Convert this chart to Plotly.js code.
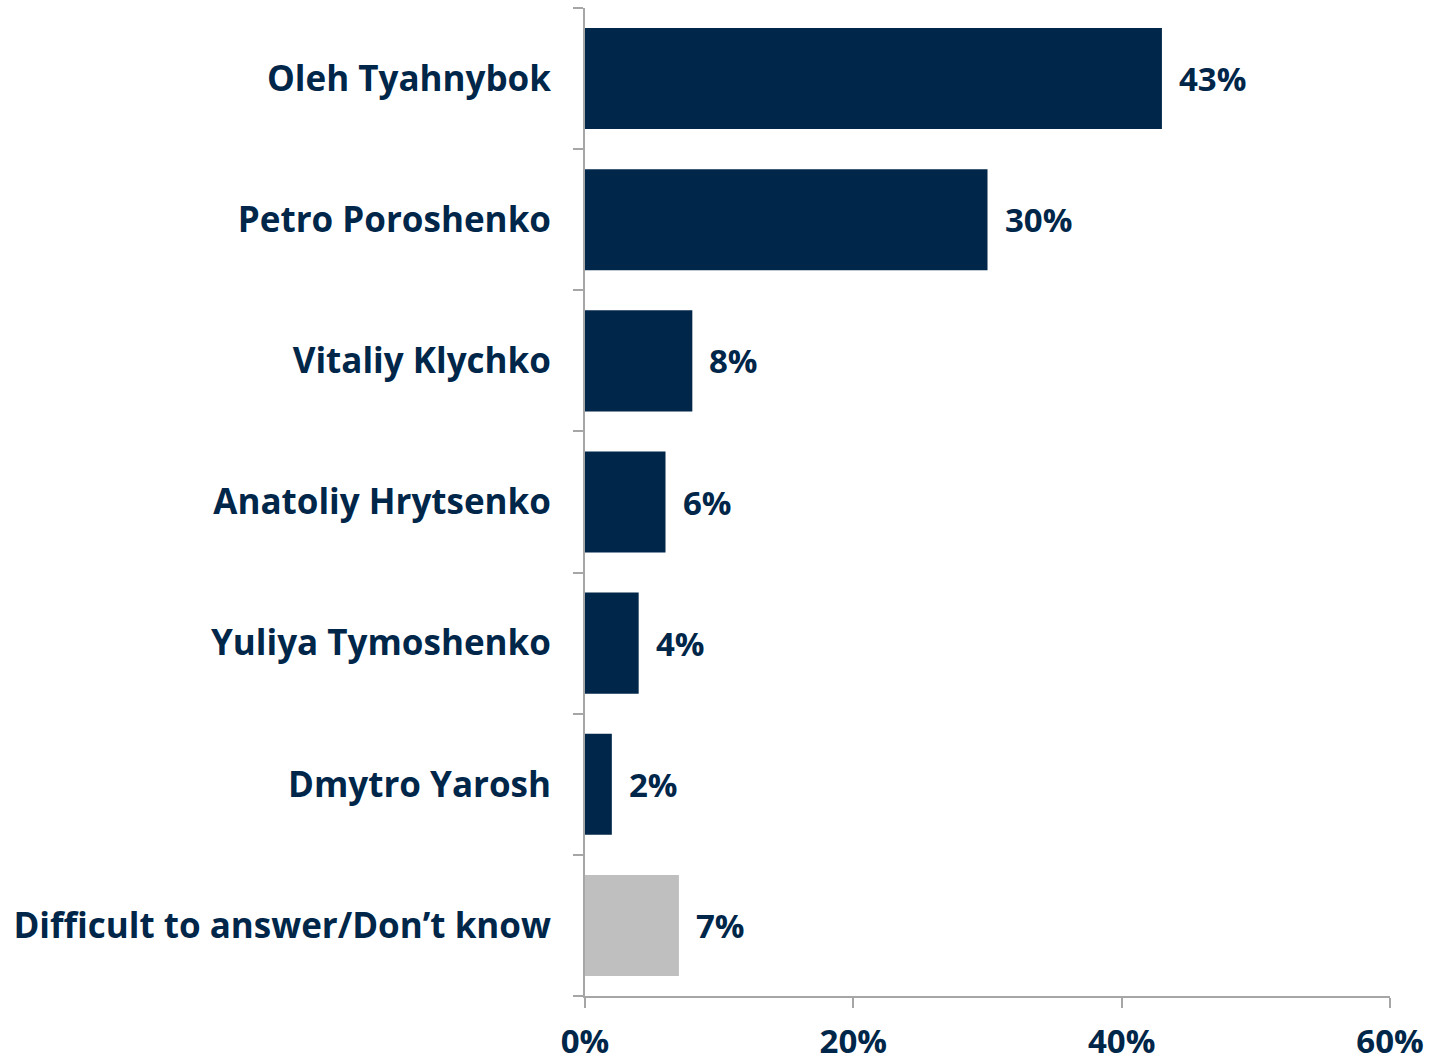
<!DOCTYPE html>
<html>
<head>
<meta charset="utf-8">
<script src="https://cdn.plot.ly/plotly-3.0.1.min.js"></script>
<style>html,body{margin:0;padding:0;background:#fff;}#chart{width:1443px;height:1058px;}</style>
</head>
<body>
<div id="chart"></div>
<script>
const categories = ["Oleh Tyahnybok","Petro Poroshenko","Vitaliy Klychko","Anatoliy Hrytsenko","Yuliya Tymoshenko","Dmytro Yarosh","Difficult to answer/Don’t know"];
const values = [43, 30, 8, 6, 4, 2, 7];
const barColors = ["#002649","#002649","#002649","#002649","#002649","#002649","#bfbfbf"];
const xTicks = [0, 20, 40, 60];
const xTickLabels = ["0%","20%","40%","60%"];

const FONT = "Open Sans, sans-serif";
const TEXTC = "#002649";

const trace = {
  type: "bar",
  orientation: "h",
  y: categories,
  x: values,
  marker: {color: barColors, line: {width: 0}},
  width: 0.716,
  hoverinfo: "skip"
};

const annotations = categories.map((c, i) => ({
  x: values[i], y: c, xref: "x", yref: "y",
  text: "<b>" + values[i] + "%</b>",
  showarrow: false, xanchor: "left", yanchor: "middle",
  xshift: 15,
  font: {family: FONT, size: 33, color: TEXTC}
}));

const layout = {
  width: 1443, height: 1058,
  margin: {l: 585, r: 53, t: 8, b: 62},
  paper_bgcolor: "#fff", plot_bgcolor: "#fff",
  showlegend: false,
  bargap: 0.284,
  xaxis: {
    range: [0, 60], tickvals: xTicks, ticktext: xTickLabels.map(t => "<b>"+t+"</b>"),
    showgrid: false, zeroline: false,
    showline: true, linecolor: "#a6a6a6", linewidth: 2,
    ticks: "outside", ticklen: 10, tickcolor: "#a6a6a6", tickwidth: 2,
    tickfont: {family: FONT, size: 33, color: TEXTC},
    ticklabelstandoff: 5,
    fixedrange: true
  },
  yaxis: {
    type: "category", autorange: "reversed",
    tickvals: categories, ticktext: categories.map(t => "<b>"+t+"</b>"),
    tickson: "boundaries",
    showgrid: false, zeroline: false,
    showline: true, linecolor: "#a6a6a6", linewidth: 2,
    ticks: "outside", ticklen: 10, tickcolor: "#a6a6a6", tickwidth: 2,
    tickfont: {family: FONT, size: 35, color: TEXTC},
    ticklabelstandoff: 25,
    fixedrange: true
  },
  annotations: annotations
};

Plotly.newPlot("chart", [trace], layout, {displayModeBar: false, staticPlot: true});
</script>
</body>
</html>
